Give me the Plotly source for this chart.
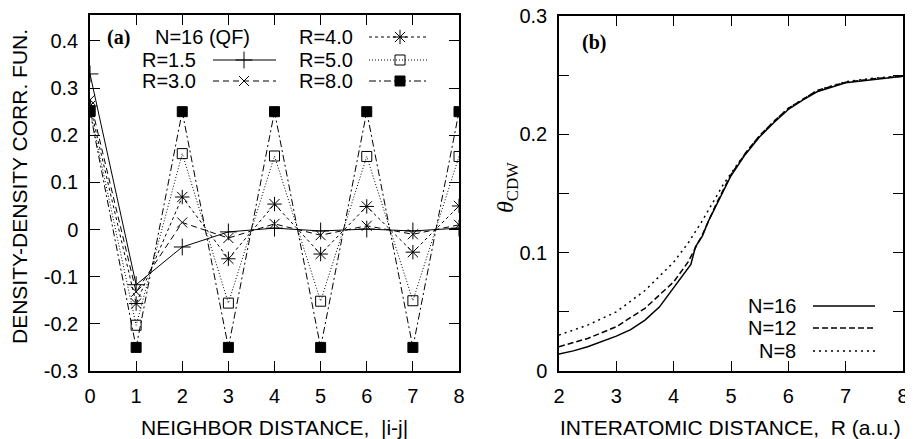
import plotly.graph_objects as go

# ---------------- data: panel (a) ----------------
neighbor = [0, 1, 2, 3, 4, 5, 6, 7, 8]
corr_r15 = [0.330, -0.117, -0.037, -0.005, 0.003, -0.003, 0.001, -0.003, 0.003]
corr_r30 = [0.275, -0.132, 0.015, -0.018, 0.012, -0.012, 0.008, -0.010, 0.010]
corr_r40 = [0.262, -0.157, 0.069, -0.062, 0.054, -0.052, 0.049, -0.048, 0.050]
corr_r50 = [0.252, -0.203, 0.161, -0.156, 0.156, -0.152, 0.155, -0.151, 0.155]
corr_r80 = [0.250, -0.250, 0.250, -0.250, 0.250, -0.250, 0.250, -0.250, 0.250]
a_yticks = [-0.3, -0.2, -0.1, 0.0, 0.1, 0.2, 0.3, 0.4]
a_yticktext = ["-0.3", "-0.2", "-0.1", "0", "0.1", "0.2", "0.3", "0.4"]

# ---------------- data: panel (b) ----------------
r16 = [2.0, 2.25, 2.5, 2.75, 3.0, 3.25, 3.5, 3.75, 4.0, 4.15, 4.3, 4.38, 4.5, 4.6,
       4.75, 5.0, 5.25, 5.5, 5.75, 6.0, 6.25, 6.5, 7.0, 7.5, 8.0]
theta16 = [0.0143, 0.017, 0.0205, 0.025, 0.0295, 0.035, 0.043, 0.054, 0.070, 0.080,
           0.090, 0.105, 0.114, 0.126, 0.141, 0.165, 0.183, 0.198, 0.210, 0.221,
           0.229, 0.236, 0.2435, 0.2465, 0.249]
r12 = [2.0, 2.5, 3.0, 3.5, 4.0, 4.25, 4.4, 4.5, 4.75, 5.0, 5.25, 5.5, 5.75, 6.0,
       6.5, 7.0, 7.5, 8.0]
theta12 = [0.0205, 0.0275, 0.0374, 0.053, 0.0753, 0.092, 0.106, 0.115, 0.142, 0.166,
           0.184, 0.199, 0.211, 0.222, 0.237, 0.244, 0.247, 0.249]
r8 = [2.0, 2.5, 3.0, 3.5, 4.0, 4.25, 4.5, 4.75, 4.87, 5.16, 5.45, 5.75, 6.0, 6.5,
      7.0, 7.5, 8.0]
theta8 = [0.0304, 0.0388, 0.050, 0.068, 0.092, 0.108, 0.127, 0.148, 0.158, 0.178,
          0.196, 0.211, 0.222, 0.237, 0.2445, 0.2475, 0.2495]
b_xticks = [2, 3, 4, 5, 6, 7, 8]
b_yticks = [0, 0.1, 0.2, 0.3]
b_yticktext = ["0", "0.1", "0.2", "0.3"]

# page is 913x439; the HTML body has an 8px margin, so the figure is offset
PAGE_W, PAGE_H = 913, 439
OFF = 8
W, H = PAGE_W - OFF, PAGE_H - OFF
FONT = "Liberation Sans, Arial, Helvetica, sans-serif"
SERIF = "Liberation Serif, Times New Roman, serif"


def px(x):
    return (x - OFF) / W


def py(y):
    return 1 - (y - OFF) / H


fig = go.Figure()

a_series = [
    ("R=1.5", corr_r15, "solid", "cross-thin-open", 12),
    ("R=3.0", corr_r30, "6px,4px", "x-thin-open", 10),
    ("R=4.0", corr_r40, "3px,3px", "asterisk-open", 12),
    ("R=5.0", corr_r50, "1px,2px", "square-open", 10),
    ("R=8.0", corr_r80, "7px,3px,2px,3px", "square", 10),
]
for name, vals, dash, sym, size in a_series:
    fig.add_trace(go.Scatter(
        x=neighbor, y=vals, mode="lines+markers", name=name,
        line=dict(color="black", width=1, dash=dash),
        marker=dict(symbol=sym, size=size, color="black",
                    line=dict(color="black", width=1)),
        xaxis="x", yaxis="y", showlegend=False))

b_series = [
    ("N=16", r16, theta16, "solid"),
    ("N=12", r12, theta12, "6px,3px"),
    ("N=8", r8, theta8, "2px,4px"),
]
for name, xs, ys, dash in b_series:
    fig.add_trace(go.Scatter(
        x=xs, y=ys, mode="lines", name=name,
        line=dict(color="black", width=1.5, dash=dash),
        xaxis="x2", yaxis="y2", showlegend=False))

# ---------- custom gnuplot-style keys (on a hidden pixel-unit axis) ----------
key_a = [  # (text right edge, sample x0, x1, marker x, y) in page pixels
    (198, 213, 276, 244, 60),
    (198, 213, 276, 244, 81),
    (355, 369, 429, 400, 37),
    (355, 369, 429, 400, 60),
    (355, 369, 429, 400, 81),
]
annotations = []
for (name, vals, dash, sym, size), (tx, x0, x1, mx, yy) in zip(a_series, key_a):
    fig.add_trace(go.Scatter(x=[x0, x1], y=[yy, yy], mode="lines",
                             line=dict(color="black", width=1, dash=dash),
                             xaxis="x3", yaxis="y3", showlegend=False, hoverinfo="skip"))
    fig.add_trace(go.Scatter(x=[mx], y=[yy], mode="markers",
                             marker=dict(symbol=sym, size=size, color="black",
                                         line=dict(color="black", width=1)),
                             xaxis="x3", yaxis="y3", showlegend=False, hoverinfo="skip"))
    annotations.append(dict(x=px(tx), y=py(yy), text=name, xanchor="right"))

key_b = [(798, 813, 875, 306), (798, 813, 875, 328), (798, 813, 875, 351)]
for (name, xs, ys, dash), (tx, x0, x1, yy) in zip(b_series, key_b):
    fig.add_trace(go.Scatter(x=[x0, x1], y=[yy, yy], mode="lines",
                             line=dict(color="black", width=1.5, dash=dash),
                             xaxis="x3", yaxis="y3", showlegend=False, hoverinfo="skip"))
    annotations.append(dict(x=px(tx), y=py(yy), text=name, xanchor="right"))

annotations += [
    dict(x=px(252), y=py(37), text="N=16 (QF)", xanchor="right"),
    dict(x=px(118), y=py(38), text="<b>(a)</b>", font=dict(family=SERIF, size=20, color="black")),
    dict(x=px(594), y=py(43), text="<b>(b)</b>", font=dict(family=SERIF, size=20, color="black")),
    dict(x=px(274), y=py(427), text="NEIGHBOR DISTANCE,&nbsp; |i-j|",
         font=dict(family=FONT, size=21, color="black")),
    dict(x=px(730), y=py(427), text="INTERATOMIC DISTANCE,&nbsp; R (a.u.)",
         font=dict(family=FONT, size=21, color="black")),
    dict(x=px(19), y=py(187), text="DENSITY-DENSITY CORR. FUN.", textangle=-90,
         font=dict(family=FONT, size=21, color="black")),
    dict(x=px(507), y=py(188), text="<i>θ</i><sub>CDW</sub>", textangle=-90,
         font=dict(family=SERIF, size=24, color="black")),
]
for a in annotations:
    a.setdefault("xref", "paper")
    a.setdefault("yref", "paper")
    a.setdefault("showarrow", False)
    a.setdefault("xanchor", "center")
    a.setdefault("yanchor", "middle")
    a.setdefault("font", dict(family=FONT, size=20, color="black"))

axis_common = dict(showline=True, linecolor="black", linewidth=1.5, mirror="ticks",
                   ticks="inside", ticklen=10, tickwidth=1.2, tickcolor="black",
                   showgrid=False, zeroline=False, ticklabeloverflow="allow",
                   ticklabelstandoff=6,
                   tickfont=dict(family=FONT, size=20, color="black"))

fig.update_layout(
    width=W, height=H, margin=dict(l=0, r=0, t=0, b=0, autoexpand=False),
    plot_bgcolor="rgba(0,0,0,0)", paper_bgcolor="white",
    xaxis=dict(domain=[px(90), px(459)], range=[0, 8], tickvals=neighbor,
               anchor="y", **axis_common),
    yaxis=dict(domain=[py(371), py(15)], range=[-0.3, 0.455], tickvals=a_yticks,
               ticktext=a_yticktext, anchor="x", **axis_common),
    xaxis2=dict(domain=[px(559), px(903)], range=[2, 8], tickvals=b_xticks,
                anchor="y2", **axis_common),
    yaxis2=dict(domain=[py(371), py(16)], range=[0, 0.3], tickvals=b_yticks,
                ticktext=b_yticktext, anchor="x2",
                minor=dict(dtick=0.05, ticks="inside", ticklen=10, tickwidth=1.2,
                           tickcolor="black"),
                **axis_common),
    xaxis3=dict(domain=[0, 1], range=[OFF, PAGE_W], visible=False, fixedrange=True,
                anchor="y3"),
    yaxis3=dict(domain=[0, 1], range=[PAGE_H, OFF], visible=False, fixedrange=True,
                anchor="x3"),
    annotations=annotations,
    showlegend=False,
)

fig.write_html("out.html")
